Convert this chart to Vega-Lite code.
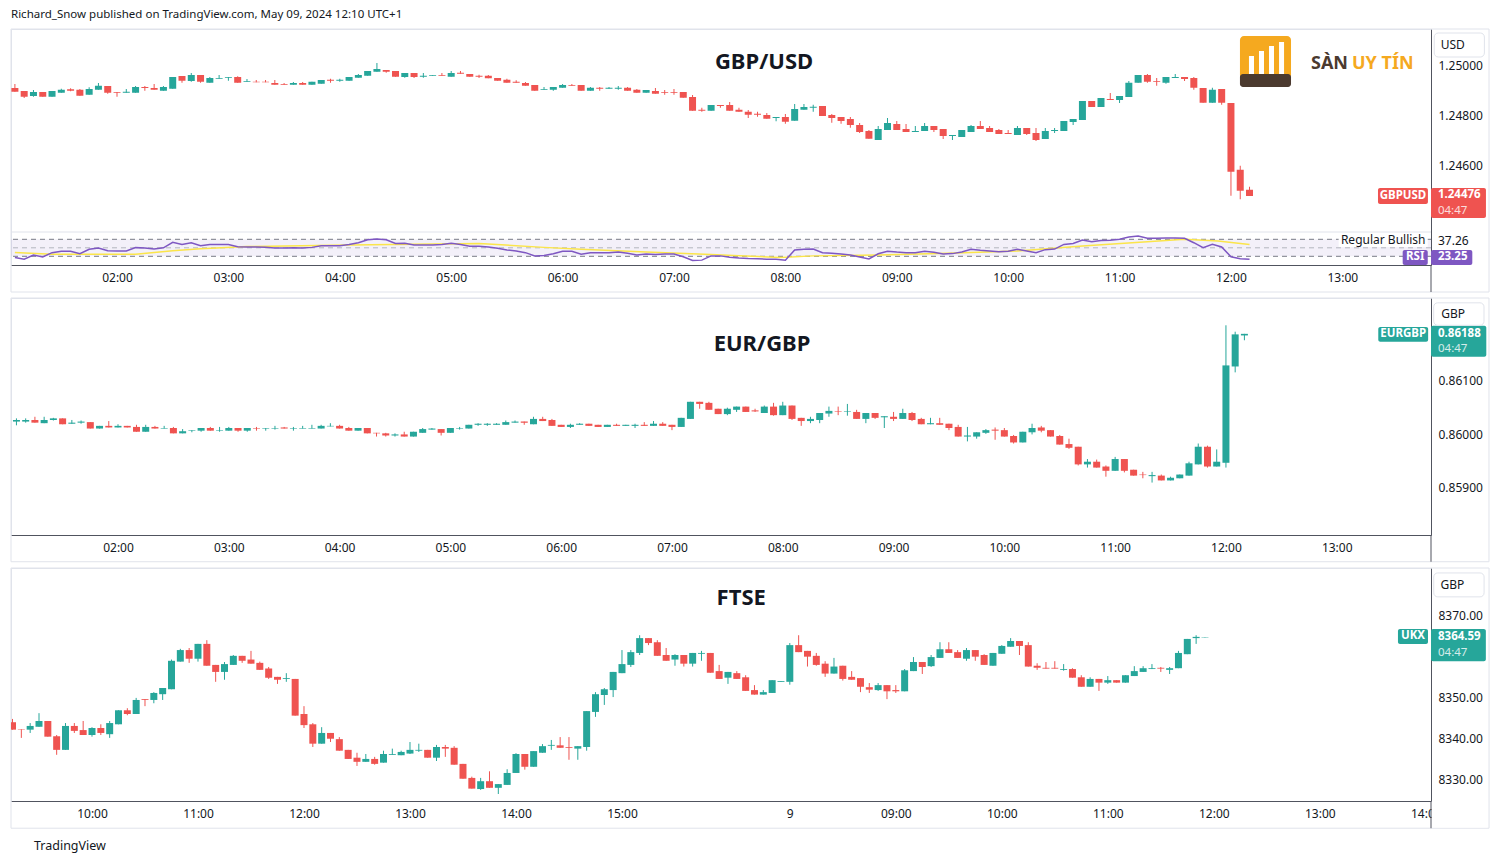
{
"$schema":"https://vega.github.io/schema/vega-lite/v6.json",
"background":"#ffffff",
"padding":{"top":8,"left":10,"right":0,"bottom":5},
"config":{"font":"Noto Sans","scale":{"continuousPadding":0},"view":{"stroke":"#e0e3eb"},"axis":{"grid":false,"ticks":false,"labelFontSize":12,"labelColor":"#131722","domainColor":"#50535e"}},
"datasets":{
"gbp":[
{"k":-11,"o":1.24908,"h":1.24924,"l":1.24893,"c":1.24893},{"k":-10,"o":1.24896,"h":1.24896,"l":1.24868,"c":1.24873},{"k":-9,"o":1.24876,"h":1.249,"l":1.24873,"c":1.24892},{"k":-8,"o":1.24892,"h":1.24892,"l":1.24873,"c":1.24873},{"k":-7,"o":1.24873,"h":1.24896,"l":1.24873,"c":1.24896},{"k":-6,"o":1.24889,"h":1.24905,"l":1.24889,"c":1.24901},{"k":-5,"o":1.24903,"h":1.24907,"l":1.24895,"c":1.24897},{"k":-4,"o":1.24901,"h":1.24904,"l":1.24877,"c":1.24877},{"k":-3,"o":1.24881,"h":1.24911,"l":1.24881,"c":1.24904},{"k":-2,"o":1.24901,"h":1.24928,"l":1.24901,"c":1.24917},
{"k":-1,"o":1.24916,"h":1.24916,"l":1.24885,"c":1.24889},{"k":0,"o":1.24892,"h":1.24892,"l":1.24873,"c":1.24889},{"k":1,"o":1.24889,"h":1.24904,"l":1.24889,"c":1.24893},{"k":2,"o":1.24889,"h":1.24916,"l":1.24889,"c":1.24912},{"k":3,"o":1.24912,"h":1.24916,"l":1.24897,"c":1.24908},{"k":4,"o":1.24908,"h":1.24924,"l":1.24901,"c":1.24901},{"k":5,"o":1.24897,"h":1.24916,"l":1.24897,"c":1.24912},{"k":6,"o":1.24905,"h":1.24952,"l":1.24905,"c":1.24952},{"k":7,"o":1.24956,"h":1.24956,"l":1.24929,"c":1.24937},{"k":8,"o":1.24936,"h":1.24968,"l":1.24933,"c":1.2496},
{"k":9,"o":1.2496,"h":1.2496,"l":1.24929,"c":1.24933},{"k":10,"o":1.24929,"h":1.24952,"l":1.24929,"c":1.24948},{"k":11,"o":1.24945,"h":1.2496,"l":1.24945,"c":1.24948},{"k":12,"o":1.24949,"h":1.24952,"l":1.24937,"c":1.24952},{"k":13,"o":1.24952,"h":1.24955,"l":1.24929,"c":1.24929},{"k":14,"o":1.24933,"h":1.24944,"l":1.24933,"c":1.24936},{"k":15,"o":1.24933,"h":1.2494,"l":1.24931,"c":1.24931},{"k":16,"o":1.24933,"h":1.2494,"l":1.24931,"c":1.24931},{"k":17,"o":1.24928,"h":1.2494,"l":1.24921,"c":1.24921},{"k":18,"o":1.24924,"h":1.24928,"l":1.24921,"c":1.24921},
{"k":19,"o":1.24921,"h":1.24932,"l":1.24921,"c":1.24928},{"k":20,"o":1.24928,"h":1.24932,"l":1.24921,"c":1.24921},{"k":21,"o":1.24921,"h":1.24933,"l":1.24921,"c":1.24933},{"k":22,"o":1.24925,"h":1.2494,"l":1.24925,"c":1.2494},{"k":23,"o":1.24941,"h":1.24945,"l":1.24929,"c":1.24937},{"k":24,"o":1.24937,"h":1.24945,"l":1.24933,"c":1.24941},{"k":25,"o":1.24937,"h":1.24952,"l":1.24937,"c":1.24952},{"k":26,"o":1.24949,"h":1.24964,"l":1.24949,"c":1.2496},{"k":27,"o":1.24957,"h":1.24976,"l":1.24957,"c":1.24976},{"k":28,"o":1.24973,"h":1.25008,"l":1.24973,"c":1.24984},
{"k":29,"o":1.2498,"h":1.2498,"l":1.24969,"c":1.24973},{"k":30,"o":1.24976,"h":1.24976,"l":1.24953,"c":1.24953},{"k":31,"o":1.24952,"h":1.24968,"l":1.24949,"c":1.24968},{"k":32,"o":1.24968,"h":1.24968,"l":1.24948,"c":1.24952},{"k":33,"o":1.24953,"h":1.24968,"l":1.24949,"c":1.24957},{"k":34,"o":1.24957,"h":1.2496,"l":1.24957,"c":1.2496},{"k":35,"o":1.2496,"h":1.24968,"l":1.24957,"c":1.24957},{"k":36,"o":1.24953,"h":1.24976,"l":1.24953,"c":1.24968},{"k":37,"o":1.24969,"h":1.24976,"l":1.24965,"c":1.24965},{"k":38,"o":1.24964,"h":1.24964,"l":1.24953,"c":1.24953},
{"k":39,"o":1.24957,"h":1.24961,"l":1.24948,"c":1.24953},{"k":40,"o":1.24957,"h":1.2496,"l":1.24947,"c":1.24947},{"k":41,"o":1.24948,"h":1.24948,"l":1.24937,"c":1.24937},{"k":42,"o":1.24941,"h":1.24945,"l":1.24929,"c":1.24929},{"k":43,"o":1.24933,"h":1.24939,"l":1.24929,"c":1.24929},{"k":44,"o":1.24928,"h":1.24932,"l":1.24917,"c":1.24917},{"k":45,"o":1.2492,"h":1.2492,"l":1.24897,"c":1.24897},{"k":46,"o":1.24901,"h":1.24912,"l":1.24901,"c":1.24904},{"k":47,"o":1.24901,"h":1.24912,"l":1.24897,"c":1.24912},{"k":48,"o":1.24909,"h":1.24924,"l":1.24909,"c":1.2492},
{"k":49,"o":1.2492,"h":1.24924,"l":1.24917,"c":1.24917},{"k":50,"o":1.2492,"h":1.2492,"l":1.24897,"c":1.24897},{"k":51,"o":1.24897,"h":1.24912,"l":1.24897,"c":1.24909},{"k":52,"o":1.24909,"h":1.24912,"l":1.24897,"c":1.24905},{"k":53,"o":1.24905,"h":1.24912,"l":1.24905,"c":1.24909},{"k":54,"o":1.24905,"h":1.24916,"l":1.24901,"c":1.24909},{"k":55,"o":1.24909,"h":1.24912,"l":1.24897,"c":1.24897},{"k":56,"o":1.24901,"h":1.24904,"l":1.24889,"c":1.24889},{"k":57,"o":1.24889,"h":1.249,"l":1.24889,"c":1.249},{"k":58,"o":1.24896,"h":1.24908,"l":1.24885,"c":1.24885},
{"k":59,"o":1.24892,"h":1.249,"l":1.24881,"c":1.24889},{"k":60,"o":1.24892,"h":1.24904,"l":1.24881,"c":1.24889},{"k":61,"o":1.24892,"h":1.24892,"l":1.24869,"c":1.24869},{"k":62,"o":1.24872,"h":1.2488,"l":1.24817,"c":1.24817},{"k":63,"o":1.24821,"h":1.24829,"l":1.24813,"c":1.24817},{"k":64,"o":1.24817,"h":1.2484,"l":1.24817,"c":1.2484},{"k":65,"o":1.2484,"h":1.2484,"l":1.24829,"c":1.24836},{"k":66,"o":1.2484,"h":1.24852,"l":1.24817,"c":1.24817},{"k":67,"o":1.24821,"h":1.24829,"l":1.24813,"c":1.24813},{"k":68,"o":1.24813,"h":1.2482,"l":1.24788,"c":1.24801},
{"k":69,"o":1.24805,"h":1.24813,"l":1.24793,"c":1.24801},{"k":70,"o":1.248,"h":1.24808,"l":1.24785,"c":1.24785},{"k":71,"o":1.24788,"h":1.24792,"l":1.24775,"c":1.24792},{"k":72,"o":1.24792,"h":1.24804,"l":1.24765,"c":1.24773},{"k":73,"o":1.24777,"h":1.24844,"l":1.24777,"c":1.24824},{"k":74,"o":1.24821,"h":1.24844,"l":1.24821,"c":1.24832},{"k":75,"o":1.24829,"h":1.24841,"l":1.24813,"c":1.24833},{"k":76,"o":1.24836,"h":1.24836,"l":1.24796,"c":1.24796},{"k":77,"o":1.248,"h":1.24804,"l":1.24769,"c":1.24788},{"k":78,"o":1.24792,"h":1.24792,"l":1.24765,"c":1.24776},
{"k":79,"o":1.24784,"h":1.24792,"l":1.24749,"c":1.2476},{"k":80,"o":1.2476,"h":1.24768,"l":1.24728,"c":1.24732},{"k":81,"o":1.24736,"h":1.2474,"l":1.24705,"c":1.24705},{"k":82,"o":1.247,"h":1.24756,"l":1.247,"c":1.24744},{"k":83,"o":1.2474,"h":1.24788,"l":1.2474,"c":1.24768},{"k":84,"o":1.24764,"h":1.24776,"l":1.2474,"c":1.2474},{"k":85,"o":1.24744,"h":1.24764,"l":1.24732,"c":1.24732},{"k":86,"o":1.24732,"h":1.24756,"l":1.24732,"c":1.24736},{"k":87,"o":1.24736,"h":1.24768,"l":1.24736,"c":1.24756},{"k":88,"o":1.24756,"h":1.24756,"l":1.24732,"c":1.2474},
{"k":89,"o":1.24744,"h":1.24744,"l":1.24704,"c":1.24716},{"k":90,"o":1.24716,"h":1.2472,"l":1.247,"c":1.2472},{"k":91,"o":1.24712,"h":1.2474,"l":1.24712,"c":1.2474},{"k":92,"o":1.24732,"h":1.2476,"l":1.24732,"c":1.24756},{"k":93,"o":1.24756,"h":1.24776,"l":1.24744,"c":1.24744},{"k":94,"o":1.24748,"h":1.24756,"l":1.24732,"c":1.24732},{"k":95,"o":1.2474,"h":1.24744,"l":1.24724,"c":1.24724},{"k":96,"o":1.24728,"h":1.2474,"l":1.24724,"c":1.24724},{"k":97,"o":1.2472,"h":1.24756,"l":1.2472,"c":1.24748},{"k":98,"o":1.24748,"h":1.24748,"l":1.2472,"c":1.24724},
{"k":99,"o":1.24728,"h":1.24748,"l":1.24696,"c":1.247},{"k":100,"o":1.24704,"h":1.24748,"l":1.24704,"c":1.24736},{"k":101,"o":1.24736,"h":1.24748,"l":1.24728,"c":1.2474},{"k":102,"o":1.24736,"h":1.24776,"l":1.24736,"c":1.24776},{"k":103,"o":1.24772,"h":1.24784,"l":1.2476,"c":1.24784},{"k":104,"o":1.2478,"h":1.24856,"l":1.2478,"c":1.24856},{"k":105,"o":1.24856,"h":1.24856,"l":1.24832,"c":1.24832},{"k":106,"o":1.24832,"h":1.24868,"l":1.24832,"c":1.24868},{"k":107,"o":1.24864,"h":1.24888,"l":1.2486,"c":1.2486},{"k":108,"o":1.2486,"h":1.24876,"l":1.24848,"c":1.24876},
{"k":109,"o":1.24872,"h":1.24936,"l":1.24872,"c":1.24929},{"k":110,"o":1.24929,"h":1.2496,"l":1.24929,"c":1.2496},{"k":111,"o":1.2496,"h":1.24964,"l":1.24929,"c":1.24933},{"k":112,"o":1.24936,"h":1.24948,"l":1.24917,"c":1.24933},{"k":113,"o":1.24929,"h":1.24952,"l":1.24925,"c":1.24952},{"k":114,"o":1.24948,"h":1.24964,"l":1.24948,"c":1.24952},{"k":115,"o":1.24952,"h":1.24952,"l":1.24936,"c":1.24944},{"k":116,"o":1.24948,"h":1.24952,"l":1.24901,"c":1.24909},{"k":117,"o":1.24908,"h":1.24908,"l":1.24849,"c":1.24849},{"k":118,"o":1.24849,"h":1.24909,"l":1.24849,"c":1.24901},
{"k":119,"o":1.24904,"h":1.24904,"l":1.24841,"c":1.24849},{"k":120,"o":1.24848,"h":1.24848,"l":1.24477,"c":1.24573},{"k":121,"o":1.24581,"h":1.24597,"l":1.24463,"c":1.24497},{"k":122,"o":1.24501,"h":1.24513,"l":1.24476,"c":1.24476}
],
"rsi":[
{"k":-11,"v":27},{"k":-10,"v":23},{"k":-9,"v":33},{"k":-8,"v":28.5},{"k":-7,"v":38.6},{"k":-6,"v":42},{"k":-5,"v":42},{"k":-4,"v":36},{"k":-3,"v":46.5},{"k":-2,"v":49.6},{"k":-1,"v":43},{"k":0,"v":42.5},{"k":1,"v":42.5},{"k":2,"v":50.4},{"k":3,"v":49.6},{"k":4,"v":47},{"k":5,"v":50},{"k":6,"v":63},{"k":7,"v":58},{"k":8,"v":62},{"k":9,"v":55},{"k":10,"v":57.5},{"k":11,"v":58},{"k":12,"v":58},{"k":13,"v":52.7},{"k":14,"v":52},{"k":15,"v":52},{"k":16,"v":51},{"k":17,"v":49.6},{"k":18,"v":49.6},{"k":19,"v":50.4},{"k":20,"v":49.6},{"k":21,"v":51},{"k":22,"v":55},{"k":23,"v":55},{"k":24,"v":55},{"k":25,"v":58},{"k":26,"v":62},{"k":27,"v":69},{"k":28,"v":70.8},{"k":29,"v":69},{"k":30,"v":60},{"k":31,"v":60.6},{"k":32,"v":56.7},{"k":33,"v":56.7},{"k":34,"v":56.7},{"k":35,"v":57.5},{"k":36,"v":60.6},{"k":37,"v":58},{"k":38,"v":53.5},{"k":39,"v":53.5},
{"k":40,"v":52},{"k":41,"v":49},{"k":42,"v":45},{"k":43,"v":42.5},{"k":44,"v":38.6},{"k":45,"v":31},{"k":46,"v":32},{"k":47,"v":36},{"k":48,"v":42},{"k":49,"v":42},{"k":50,"v":35},{"k":51,"v":38.6},{"k":52,"v":38.6},{"k":53,"v":38.6},{"k":54,"v":40},{"k":55,"v":37},{"k":56,"v":33},{"k":57,"v":35.5},{"k":58,"v":34},{"k":59,"v":35.5},{"k":60,"v":35.5},{"k":61,"v":29},{"k":62,"v":20},{"k":63,"v":21},{"k":64,"v":31},{"k":65,"v":31},{"k":66,"v":28},{"k":67,"v":26},{"k":68,"v":25},{"k":69,"v":24.5},{"k":70,"v":23},{"k":71,"v":23},{"k":72,"v":20.6},{"k":73,"v":45},{"k":74,"v":46.5},{"k":75,"v":47},{"k":76,"v":38.6},{"k":77,"v":37},{"k":78,"v":35.5},{"k":79,"v":33},{"k":80,"v":28.5},{"k":81,"v":23.7},{"k":82,"v":36},{"k":83,"v":42},{"k":84,"v":40},{"k":85,"v":38.6},{"k":86,"v":38.6},{"k":87,"v":42},{"k":88,"v":39.5},{"k":89,"v":35.5},
{"k":90,"v":36.3},{"k":91,"v":40},{"k":92,"v":46.5},{"k":93,"v":44},{"k":94,"v":42.5},{"k":95,"v":41},{"k":96,"v":42},{"k":97,"v":46.5},{"k":98,"v":42.5},{"k":99,"v":38.6},{"k":100,"v":45.7},{"k":101,"v":47},{"k":102,"v":58},{"k":103,"v":60},{"k":104,"v":68.4},{"k":105,"v":64.5},{"k":106,"v":67},{"k":107,"v":67.6},{"k":108,"v":70},{"k":109,"v":75.5},{"k":110,"v":78},{"k":111,"v":72.4},{"k":112,"v":72.4},{"k":113,"v":73},{"k":114,"v":73},{"k":115,"v":72.4},{"k":116,"v":62},{"k":117,"v":50.4},{"k":118,"v":58},{"k":119,"v":52},{"k":120,"v":29},{"k":121,"v":24.5},{"k":122,"v":23.25}
],
"rsima":[
{"k":-11,"v":39},{"k":-7,"v":35},{"k":2,"v":35},{"k":6,"v":43},{"k":9,"v":48},{"k":14,"v":53},{"k":25,"v":56.5},{"k":39,"v":60},{"k":46,"v":51},{"k":50,"v":46.5},{"k":57,"v":40},{"k":64,"v":34},{"k":71.5,"v":27},{"k":75,"v":31},{"k":82,"v":33},{"k":89.5,"v":37},{"k":97,"v":42.5},{"k":104,"v":54},{"k":111,"v":64.5},{"k":115,"v":70},{"k":118.6,"v":66},{"k":122,"v":58}
],
"eur":[
{"k":-11,"o":0.86024,"h":0.8603,"l":0.86017,"c":0.86027},{"k":-10,"o":0.86024,"h":0.8603,"l":0.86022,"c":0.86027},{"k":-9,"o":0.86027,"h":0.86033,"l":0.86022,"c":0.86022},{"k":-8,"o":0.86021,"h":0.86033,"l":0.86021,"c":0.86027},{"k":-7,"o":0.86027,"h":0.86031,"l":0.86026,"c":0.8603},{"k":-6,"o":0.8603,"h":0.8603,"l":0.86019,"c":0.86019},{"k":-5,"o":0.8602,"h":0.86027,"l":0.8602,"c":0.86022},{"k":-4,"o":0.86022,"h":0.86026,"l":0.8602,"c":0.86024},{"k":-3,"o":0.86023,"h":0.86023,"l":0.86011,"c":0.86011},{"k":-2,"o":0.86011,"h":0.86016,"l":0.86011,"c":0.86016},
{"k":-1,"o":0.86016,"h":0.86025,"l":0.86013,"c":0.86013},{"k":0,"o":0.86013,"h":0.86019,"l":0.86013,"c":0.86016},{"k":1,"o":0.86016,"h":0.86016,"l":0.86013,"c":0.86013},{"k":2,"o":0.86014,"h":0.86018,"l":0.86005,"c":0.86005},{"k":3,"o":0.86005,"h":0.86018,"l":0.86005,"c":0.86014},{"k":4,"o":0.86014,"h":0.86016,"l":0.86011,"c":0.86011},{"k":5,"o":0.86011,"h":0.86016,"l":0.86011,"c":0.86012},{"k":6,"o":0.86012,"h":0.86014,"l":0.86002,"c":0.86002},{"k":7,"o":0.86002,"h":0.8601,"l":0.86002,"c":0.86006},{"k":8,"o":0.86007,"h":0.86008,"l":0.86004,"c":0.86008},
{"k":9,"o":0.86007,"h":0.86012,"l":0.86005,"c":0.86012},{"k":10,"o":0.86012,"h":0.86014,"l":0.86007,"c":0.86007},{"k":11,"o":0.86007,"h":0.86014,"l":0.86005,"c":0.86008},{"k":12,"o":0.86007,"h":0.86014,"l":0.86007,"c":0.86012},{"k":13,"o":0.86012,"h":0.86012,"l":0.86005,"c":0.86007},{"k":14,"o":0.86007,"h":0.86012,"l":0.86005,"c":0.86012},{"k":15,"o":0.86012,"h":0.86014,"l":0.86007,"c":0.86011},{"k":16,"o":0.86011,"h":0.86012,"l":0.86007,"c":0.86012},{"k":17,"o":0.86011,"h":0.86016,"l":0.86009,"c":0.86012},{"k":18,"o":0.86013,"h":0.86014,"l":0.86011,"c":0.86011},
{"k":19,"o":0.86011,"h":0.86014,"l":0.86007,"c":0.86012},{"k":20,"o":0.86011,"h":0.86016,"l":0.86011,"c":0.86012},{"k":21,"o":0.86011,"h":0.86018,"l":0.86011,"c":0.86012},{"k":22,"o":0.86011,"h":0.86018,"l":0.86011,"c":0.86016},{"k":23,"o":0.86015,"h":0.86021,"l":0.86015,"c":0.86016},{"k":24,"o":0.86016,"h":0.86018,"l":0.86011,"c":0.86011},{"k":25,"o":0.86012,"h":0.86014,"l":0.86007,"c":0.86007},{"k":26,"o":0.86007,"h":0.86012,"l":0.86007,"c":0.86012},{"k":27,"o":0.86012,"h":0.86012,"l":0.86002,"c":0.86002},{"k":28,"o":0.86003,"h":0.86003,"l":0.85996,"c":0.86002},
{"k":29,"o":0.86002,"h":0.86003,"l":0.85996,"c":0.85998},{"k":30,"o":0.85998,"h":0.86002,"l":0.85996,"c":0.86},{"k":31,"o":0.86,"h":0.86005,"l":0.85996,"c":0.85996},{"k":32,"o":0.85996,"h":0.86005,"l":0.85996,"c":0.86005},{"k":33,"o":0.86003,"h":0.86012,"l":0.86003,"c":0.8601},{"k":34,"o":0.86009,"h":0.86012,"l":0.86009,"c":0.86011},{"k":35,"o":0.8601,"h":0.8601,"l":0.85998,"c":0.86003},{"k":36,"o":0.86003,"h":0.86012,"l":0.86003,"c":0.86012},{"k":37,"o":0.86011,"h":0.86014,"l":0.86009,"c":0.86012},{"k":38,"o":0.86011,"h":0.86018,"l":0.86011,"c":0.86018},
{"k":39,"o":0.86018,"h":0.86021,"l":0.86016,"c":0.8602},{"k":40,"o":0.86018,"h":0.86021,"l":0.86016,"c":0.8602},{"k":41,"o":0.86018,"h":0.86021,"l":0.86018,"c":0.8602},{"k":42,"o":0.86018,"h":0.86026,"l":0.86018,"c":0.86023},{"k":43,"o":0.86022,"h":0.86026,"l":0.86022,"c":0.86024},{"k":44,"o":0.86024,"h":0.86024,"l":0.86018,"c":0.86022},{"k":45,"o":0.86019,"h":0.86033,"l":0.86019,"c":0.86029},{"k":46,"o":0.86029,"h":0.86033,"l":0.86025,"c":0.86025},{"k":47,"o":0.86027,"h":0.86029,"l":0.86016,"c":0.86016},{"k":48,"o":0.86018,"h":0.86018,"l":0.86014,"c":0.86014},
{"k":49,"o":0.86014,"h":0.8602,"l":0.86012,"c":0.86018},{"k":50,"o":0.86018,"h":0.86021,"l":0.86018,"c":0.8602},{"k":51,"o":0.8602,"h":0.8602,"l":0.86016,"c":0.86016},{"k":52,"o":0.86018,"h":0.86018,"l":0.86014,"c":0.86014},{"k":53,"o":0.86014,"h":0.86018,"l":0.86014,"c":0.86018},{"k":54,"o":0.86018,"h":0.8602,"l":0.86016,"c":0.86016},{"k":55,"o":0.86016,"h":0.86018,"l":0.86016,"c":0.86018},{"k":56,"o":0.86016,"h":0.8602,"l":0.86012,"c":0.86018},{"k":57,"o":0.86018,"h":0.86023,"l":0.86016,"c":0.86016},{"k":58,"o":0.86016,"h":0.86025,"l":0.86016,"c":0.8602},
{"k":59,"o":0.8602,"h":0.86023,"l":0.86016,"c":0.86016},{"k":60,"o":0.86018,"h":0.86018,"l":0.86008,"c":0.86014},{"k":61,"o":0.86014,"h":0.86031,"l":0.86014,"c":0.86031},{"k":62,"o":0.86029,"h":0.86061,"l":0.86029,"c":0.86061},{"k":63,"o":0.86061,"h":0.86061,"l":0.86048,"c":0.86057},{"k":64,"o":0.86059,"h":0.86061,"l":0.86046,"c":0.86046},{"k":65,"o":0.86048,"h":0.86048,"l":0.86038,"c":0.86038},{"k":66,"o":0.86038,"h":0.8605,"l":0.86036,"c":0.86048},{"k":67,"o":0.86046,"h":0.86052,"l":0.86042,"c":0.86052},{"k":68,"o":0.86052,"h":0.86052,"l":0.86042,"c":0.86042},
{"k":69,"o":0.86045,"h":0.86048,"l":0.86042,"c":0.86043},{"k":70,"o":0.8604,"h":0.86054,"l":0.8604,"c":0.86052},{"k":71,"o":0.86052,"h":0.86059,"l":0.86035,"c":0.86036},{"k":72,"o":0.86036,"h":0.86061,"l":0.86036,"c":0.86054},{"k":73,"o":0.86054,"h":0.86054,"l":0.86027,"c":0.86029},{"k":74,"o":0.86031,"h":0.86031,"l":0.86016,"c":0.86025},{"k":75,"o":0.86025,"h":0.86033,"l":0.86021,"c":0.86029},{"k":76,"o":0.86027,"h":0.8604,"l":0.86021,"c":0.8604},{"k":77,"o":0.86039,"h":0.86052,"l":0.86033,"c":0.86044},{"k":78,"o":0.86043,"h":0.86052,"l":0.86036,"c":0.86042},
{"k":79,"o":0.86042,"h":0.86057,"l":0.86035,"c":0.86043},{"k":80,"o":0.86042,"h":0.86046,"l":0.86029,"c":0.86029},{"k":81,"o":0.86029,"h":0.8604,"l":0.86021,"c":0.8604},{"k":82,"o":0.8604,"h":0.8604,"l":0.86029,"c":0.86031},{"k":83,"o":0.86032,"h":0.86034,"l":0.86012,"c":0.86034},{"k":84,"o":0.86033,"h":0.86042,"l":0.86025,"c":0.86029},{"k":85,"o":0.86029,"h":0.86048,"l":0.86029,"c":0.8604},{"k":86,"o":0.8604,"h":0.86042,"l":0.86025,"c":0.86027},{"k":87,"o":0.86029,"h":0.86031,"l":0.86019,"c":0.86019},{"k":88,"o":0.86019,"h":0.86031,"l":0.86019,"c":0.86021},
{"k":89,"o":0.86021,"h":0.86031,"l":0.86018,"c":0.86018},{"k":90,"o":0.8602,"h":0.8602,"l":0.86008,"c":0.86012},{"k":91,"o":0.86014,"h":0.86018,"l":0.85996,"c":0.85996},{"k":92,"o":0.85996,"h":0.86014,"l":0.85987,"c":0.85998},{"k":93,"o":0.85996,"h":0.86004,"l":0.85992,"c":0.86004},{"k":94,"o":0.86003,"h":0.8601,"l":0.86001,"c":0.86008},{"k":95,"o":0.86009,"h":0.86013,"l":0.8599,"c":0.86007},{"k":96,"o":0.86008,"h":0.86012,"l":0.85996,"c":0.85996},{"k":97,"o":0.85997,"h":0.85999,"l":0.85983,"c":0.85985},{"k":98,"o":0.85985,"h":0.86005,"l":0.85985,"c":0.86005},
{"k":99,"o":0.86004,"h":0.8602,"l":0.86,"c":0.86012},{"k":100,"o":0.86013,"h":0.86016,"l":0.86004,"c":0.86007},{"k":101,"o":0.86008,"h":0.86008,"l":0.85996,"c":0.85996},{"k":102,"o":0.85997,"h":0.85999,"l":0.85981,"c":0.85981},{"k":103,"o":0.85982,"h":0.85992,"l":0.85973,"c":0.85975},{"k":104,"o":0.85977,"h":0.85977,"l":0.85942,"c":0.85944},{"k":105,"o":0.85944,"h":0.85954,"l":0.85938,"c":0.85949},{"k":106,"o":0.85949,"h":0.85953,"l":0.85938,"c":0.85938},{"k":107,"o":0.8594,"h":0.85942,"l":0.85921,"c":0.85932},{"k":108,"o":0.85932,"h":0.85958,"l":0.85932,"c":0.85954},
{"k":109,"o":0.85954,"h":0.85954,"l":0.85929,"c":0.85932},{"k":110,"o":0.85934,"h":0.85934,"l":0.85923,"c":0.85923},{"k":111,"o":0.85925,"h":0.8593,"l":0.85918,"c":0.85924},{"k":112,"o":0.85922,"h":0.8593,"l":0.8591,"c":0.85924},{"k":113,"o":0.85923,"h":0.85925,"l":0.85914,"c":0.85914},{"k":114,"o":0.85914,"h":0.85921,"l":0.85914,"c":0.85919},{"k":115,"o":0.85918,"h":0.85925,"l":0.85918,"c":0.85925},{"k":116,"o":0.85923,"h":0.85949,"l":0.85923,"c":0.85946},{"k":117,"o":0.85944,"h":0.85983,"l":0.85944,"c":0.85977},{"k":118,"o":0.85977,"h":0.85979,"l":0.85938,"c":0.8594},
{"k":119,"o":0.8594,"h":0.85972,"l":0.8594,"c":0.85949},{"k":120,"o":0.85947,"h":0.86204,"l":0.85938,"c":0.86129},{"k":121,"o":0.86127,"h":0.86192,"l":0.86116,"c":0.86187},{"k":122,"o":0.86185,"h":0.86188,"l":0.86176,"c":0.86188}
],
"ftse":[
{"k":-9,"o":8344.0,"h":8344.8,"l":8342.2,"c":8342.2},{"k":-8,"o":8342.3,"h":8342.3,"l":8340.2,"c":8342.2},{"k":-7,"o":8342.2,"h":8343.8,"l":8341.4,"c":8343.1},{"k":-6,"o":8342.9,"h":8346.2,"l":8342.9,"c":8344.3},{"k":-5,"o":8344.3,"h":8344.3,"l":8340.5,"c":8340.5},{"k":-4,"o":8340.6,"h":8340.9,"l":8336.1,"c":8337.3},{"k":-3,"o":8337.3,"h":8343.8,"l":8337.3,"c":8343.1},{"k":-2,"o":8343.1,"h":8343.8,"l":8341.4,"c":8341.9},{"k":-1,"o":8342.1,"h":8344.3,"l":8340.9,"c":8340.9},{"k":0,"o":8340.9,"h":8342.8,"l":8340.5,"c":8342.6},
{"k":1,"o":8342.6,"h":8343.5,"l":8340.9,"c":8341.4},{"k":2,"o":8341.1,"h":8344.3,"l":8340.2,"c":8343.8},{"k":3,"o":8343.5,"h":8346.9,"l":8343.5,"c":8346.9},{"k":4,"o":8346.9,"h":8347.4,"l":8345.7,"c":8346.0},{"k":5,"o":8346.0,"h":8349.9,"l":8346.0,"c":8349.4},{"k":6,"o":8349.6,"h":8349.6,"l":8347.9,"c":8349.4},{"k":7,"o":8349.4,"h":8351.3,"l":8348.6,"c":8351.1},{"k":8,"o":8350.8,"h":8352.3,"l":8349.4,"c":8352.3},{"k":9,"o":8352.0,"h":8359.2,"l":8352.0,"c":8358.9},{"k":10,"o":8358.7,"h":8361.8,"l":8358.7,"c":8361.5},
{"k":11,"o":8361.5,"h":8362.0,"l":8358.4,"c":8359.4},{"k":12,"o":8359.4,"h":8363.0,"l":8358.7,"c":8363.0},{"k":13,"o":8363.0,"h":8363.9,"l":8357.7,"c":8357.7},{"k":14,"o":8357.9,"h":8357.9,"l":8353.8,"c":8356.2},{"k":15,"o":8356.2,"h":8358.6,"l":8354.3,"c":8358.1},{"k":16,"o":8357.9,"h":8360.3,"l":8357.9,"c":8360.1},{"k":17,"o":8360.1,"h":8360.1,"l":8358.4,"c":8358.9},{"k":18,"o":8359.2,"h":8361.3,"l":8358.2,"c":8358.2},{"k":19,"o":8358.4,"h":8358.7,"l":8356.7,"c":8356.7},{"k":20,"o":8357.0,"h":8357.4,"l":8354.5,"c":8354.8},
{"k":21,"o":8355.0,"h":8355.0,"l":8353.3,"c":8354.3},{"k":22,"o":8354.5,"h":8355.9,"l":8353.8,"c":8354.7},{"k":23,"o":8354.5,"h":8354.5,"l":8345.6,"c":8345.6},{"k":24,"o":8346.0,"h":8347.9,"l":8342.6,"c":8343.3},{"k":25,"o":8343.5,"h":8343.8,"l":8338.0,"c":8338.8},{"k":26,"o":8338.8,"h":8342.8,"l":8338.8,"c":8341.4},{"k":27,"o":8341.4,"h":8341.4,"l":8339.2,"c":8340.0},{"k":28,"o":8339.9,"h":8340.4,"l":8337.1,"c":8337.1},{"k":29,"o":8337.3,"h":8337.3,"l":8335.1,"c":8335.1},{"k":30,"o":8335.4,"h":8336.6,"l":8333.4,"c":8334.4},
{"k":31,"o":8334.4,"h":8336.3,"l":8334.4,"c":8335.1},{"k":32,"o":8335.1,"h":8335.6,"l":8333.7,"c":8333.9},{"k":33,"o":8334.2,"h":8337.1,"l":8334.2,"c":8336.3},{"k":34,"o":8336.1,"h":8337.6,"l":8336.1,"c":8336.3},{"k":35,"o":8336.0,"h":8337.1,"l":8336.0,"c":8336.8},{"k":36,"o":8336.4,"h":8339.2,"l":8336.3,"c":8337.3},{"k":37,"o":8337.1,"h":8338.8,"l":8336.8,"c":8337.3},{"k":38,"o":8337.3,"h":8337.3,"l":8335.4,"c":8335.4},{"k":39,"o":8335.4,"h":8338.5,"l":8334.6,"c":8338.0},{"k":40,"o":8338.0,"h":8338.5,"l":8335.6,"c":8337.6},
{"k":41,"o":8337.8,"h":8338.2,"l":8333.7,"c":8333.7},{"k":42,"o":8333.9,"h":8333.9,"l":8330.3,"c":8330.3},{"k":43,"o":8330.5,"h":8330.8,"l":8327.9,"c":8327.9},{"k":44,"o":8327.8,"h":8330.5,"l":8327.6,"c":8329.7},{"k":45,"o":8329.7,"h":8332.1,"l":8328.1,"c":8328.1},{"k":46,"o":8328.1,"h":8329.0,"l":8326.6,"c":8329.0},{"k":47,"o":8328.8,"h":8332.6,"l":8328.8,"c":8331.7},{"k":48,"o":8331.7,"h":8336.5,"l":8331.7,"c":8336.3},{"k":49,"o":8336.3,"h":8336.3,"l":8332.5,"c":8333.2},{"k":50,"o":8333.2,"h":8337.0,"l":8333.2,"c":8337.0},
{"k":51,"o":8336.6,"h":8338.7,"l":8336.6,"c":8338.2},{"k":52,"o":8338.3,"h":8339.7,"l":8337.3,"c":8338.5},{"k":53,"o":8338.4,"h":8340.4,"l":8337.8,"c":8337.8},{"k":54,"o":8338.0,"h":8340.4,"l":8334.9,"c":8337.8},{"k":55,"o":8337.6,"h":8338.2,"l":8334.9,"c":8338.2},{"k":56,"o":8338.0,"h":8346.7,"l":8337.1,"c":8346.7},{"k":57,"o":8346.5,"h":8351.3,"l":8345.3,"c":8350.8},{"k":58,"o":8350.6,"h":8352.3,"l":8348.2,"c":8352.0},{"k":59,"o":8351.8,"h":8356.2,"l":8350.1,"c":8356.2},{"k":60,"o":8355.9,"h":8361.5,"l":8355.9,"c":8358.1},
{"k":61,"o":8357.9,"h":8361.5,"l":8357.4,"c":8361.0},{"k":62,"o":8360.8,"h":8365.1,"l":8360.3,"c":8364.4},{"k":63,"o":8364.4,"h":8364.4,"l":8362.7,"c":8363.2},{"k":64,"o":8363.4,"h":8363.9,"l":8360.1,"c":8360.1},{"k":65,"o":8360.3,"h":8362.0,"l":8358.9,"c":8358.9},{"k":66,"o":8359.2,"h":8360.5,"l":8357.7,"c":8360.3},{"k":67,"o":8360.3,"h":8360.3,"l":8357.5,"c":8358.2},{"k":68,"o":8358.2,"h":8360.8,"l":8357.5,"c":8360.8},{"k":69,"o":8360.6,"h":8361.3,"l":8358.9,"c":8360.8},{"k":70,"o":8360.8,"h":8360.8,"l":8356.0,"c":8356.0},
{"k":71,"o":8356.4,"h":8357.9,"l":8354.5,"c":8354.5},{"k":72,"o":8354.8,"h":8356.2,"l":8353.3,"c":8356.2},{"k":73,"o":8355.9,"h":8356.4,"l":8354.5,"c":8354.5},{"k":74,"o":8354.9,"h":8355.4,"l":8351.6,"c":8351.6},{"k":75,"o":8351.8,"h":8353.0,"l":8350.7,"c":8350.7},{"k":76,"o":8350.7,"h":8351.8,"l":8350.7,"c":8351.3},{"k":77,"o":8351.1,"h":8354.2,"l":8351.1,"c":8354.2},{"k":78,"o":8353.8,"h":8354.0,"l":8353.8,"c":8354.0},{"k":79,"o":8353.8,"h":8363.2,"l":8353.1,"c":8362.7},{"k":80,"o":8362.7,"h":8365.1,"l":8361.0,"c":8361.0},
{"k":81,"o":8361.3,"h":8361.3,"l":8357.5,"c":8359.9},{"k":82,"o":8360.1,"h":8360.8,"l":8357.7,"c":8357.9},{"k":83,"o":8358.2,"h":8358.8,"l":8355.0,"c":8355.8},{"k":84,"o":8355.8,"h":8359.6,"l":8355.8,"c":8357.5},{"k":85,"o":8357.7,"h":8357.7,"l":8354.1,"c":8354.5},{"k":86,"o":8355.0,"h":8356.4,"l":8354.3,"c":8354.3},{"k":87,"o":8354.7,"h":8354.7,"l":8351.3,"c":8352.6},{"k":88,"o":8352.5,"h":8353.5,"l":8351.1,"c":8351.9},{"k":89,"o":8351.8,"h":8353.5,"l":8351.6,"c":8353.0},{"k":90,"o":8353.0,"h":8353.0,"l":8349.6,"c":8351.5},
{"k":91,"o":8351.8,"h":8353.0,"l":8351.1,"c":8351.5},{"k":92,"o":8351.5,"h":8356.9,"l":8351.5,"c":8356.6},{"k":93,"o":8356.4,"h":8359.8,"l":8356.4,"c":8358.6},{"k":94,"o":8358.6,"h":8358.6,"l":8355.7,"c":8357.4},{"k":95,"o":8357.6,"h":8360.3,"l":8357.4,"c":8359.8},{"k":96,"o":8359.6,"h":8363.4,"l":8359.6,"c":8361.7},{"k":97,"o":8361.7,"h":8363.4,"l":8360.8,"c":8360.8},{"k":98,"o":8361.0,"h":8361.5,"l":8359.6,"c":8359.6},{"k":99,"o":8359.4,"h":8362.0,"l":8358.9,"c":8361.5},{"k":100,"o":8361.5,"h":8361.5,"l":8358.9,"c":8359.9},
{"k":101,"o":8360.3,"h":8360.5,"l":8357.9,"c":8357.9},{"k":102,"o":8357.7,"h":8360.8,"l":8357.7,"c":8360.8},{"k":103,"o":8360.6,"h":8362.7,"l":8360.6,"c":8362.5},{"k":104,"o":8362.3,"h":8364.4,"l":8362.3,"c":8363.7},{"k":105,"o":8363.7,"h":8363.7,"l":8360.3,"c":8362.5},{"k":106,"o":8362.7,"h":8363.4,"l":8357.5,"c":8357.5},{"k":107,"o":8357.7,"h":8358.3,"l":8356.7,"c":8357.2},{"k":108,"o":8357.2,"h":8358.6,"l":8357.0,"c":8357.0},{"k":109,"o":8357.2,"h":8358.8,"l":8357.0,"c":8357.0},{"k":110,"o":8356.7,"h":8358.1,"l":8356.5,"c":8356.9},
{"k":111,"o":8356.9,"h":8357.1,"l":8354.8,"c":8354.8},{"k":112,"o":8354.9,"h":8355.4,"l":8352.6,"c":8352.6},{"k":113,"o":8352.6,"h":8354.9,"l":8352.6,"c":8354.5},{"k":114,"o":8354.5,"h":8354.5,"l":8351.6,"c":8353.6},{"k":115,"o":8353.6,"h":8355.2,"l":8353.3,"c":8354.2},{"k":116,"o":8354.2,"h":8354.2,"l":8353.6,"c":8353.6},{"k":117,"o":8353.6,"h":8355.4,"l":8353.6,"c":8355.4},{"k":118,"o":8355.2,"h":8357.6,"l":8355.2,"c":8356.4},{"k":119,"o":8356.2,"h":8357.6,"l":8356.2,"c":8357.1},{"k":120,"o":8356.9,"h":8358.1,"l":8356.9,"c":8357.1},
{"k":121,"o":8357.2,"h":8357.4,"l":8356.2,"c":8357.0},{"k":122,"o":8356.7,"h":8357.4,"l":8355.7,"c":8357.1},{"k":123,"o":8357.1,"h":8361.3,"l":8357.1,"c":8360.8},{"k":124,"o":8360.5,"h":8364.2,"l":8360.5,"c":8364.2},{"k":125,"o":8364.4,"h":8365.1,"l":8363.0,"c":8364.7},{"k":126,"o":8364.5,"h":8364.6,"l":8364.5,"c":8364.59}
]
},
"bounds":"flush",
"spacing":33,
"vconcat":[
{
"width":1420,"height":236,
"resolve":{"scale":{"y":"independent"}},
"layer":[
{"layer":[
{"data":{"values":[{}]},"mark":{"type":"rect","fill":null,"stroke":"#e0e3eb","strokeWidth":1},"encoding":{"x":{"datum":-11.42,"type":"quantitative","scale":{"domain":[-11.42,141.55],"nice":false,"zero":false}},"x2":{"datum":147.8},"y":{"datum":1.25144,"type":"quantitative","scale":{"domain":[1.242,1.25144],"nice":false,"zero":false}},"y2":{"datum":1.24092}}},
{"data":{"values":[{}]},"mark":{"type":"text","text":"Richard_Snow published on TradingView.com, May 09, 2024 12:10 UTC+1","fontSize":11.5,"color":"#131722","align":"left","baseline":"middle"},"encoding":{"x":{"datum":-11.42,"type":"quantitative","scale":{"domain":[-11.42,141.55],"nice":false,"zero":false}},"y":{"datum":1.252,"type":"quantitative","scale":{"domain":[1.242,1.25144],"nice":false,"zero":false}}}},
{"data":{"values":[{}]},"mark":{"type":"rule","color":"#e0e3eb","strokeWidth":1},"encoding":{"y":{"datum":1.24332,"type":"quantitative","scale":{"domain":[1.242,1.25144],"nice":false,"zero":false}}}},
{"data":{"values":[{}]},"mark":{"type":"rule","color":"#50535e","strokeWidth":1},"encoding":{"x":{"datum":141.55,"type":"quantitative","scale":{"domain":[-11.42,141.55],"nice":false,"zero":false}},"y":{"datum":1.242,"type":"quantitative","scale":{"domain":[1.242,1.25144],"nice":false,"zero":false}},"y2":{"datum":1.24092}}},
{"data":{"name":"gbp"},"mark":{"type":"rule","strokeWidth":1,"clip":true},"encoding":{
"x":{"field":"k","type":"quantitative","scale":{"domain":[-11.42,141.55],"nice":false,"zero":false},"axis":{"values":[0,12,24,36,48,60,72,84,96,108,120,132],"labelExpr":"(datum.value/12+2<10?'0':'')+(datum.value/12+2)+':00'","title":null,"labelPadding":7,"labelFlush":false,"labelOverlap":false}},
"y":{"field":"l","type":"quantitative","scale":{"domain":[1.242,1.25144],"nice":false,"zero":false},"axis":{"orient":"right","values":[1.246,1.248,1.25],"format":".5f","title":null,"labelPadding":7}},
"y2":{"field":"h"},
"color":{"condition":{"test":"datum.c >= datum.o","value":"#26a69a"},"value":"#ef5350"}}},
{"data":{"name":"gbp"},"mark":{"type":"bar","width":7,"clip":true},"encoding":{
"x":{"field":"k","type":"quantitative","scale":{"domain":[-11.42,141.55],"nice":false,"zero":false}},
"y":{"field":"o","type":"quantitative","scale":{"domain":[1.242,1.25144],"nice":false,"zero":false}},
"y2":{"field":"c"},
"color":{"condition":{"test":"datum.c >= datum.o","value":"#26a69a"},"value":"#ef5350"}}},
{"data":{"values":[{}]},"mark":{"type":"text","text":"GBP/USD","fontSize":22,"fontWeight":"bold","color":"#131722"},"encoding":{"x":{"datum":69.7,"type":"quantitative","scale":{"domain":[-11.42,141.55],"nice":false,"zero":false}},"y":{"datum":1.25012,"type":"quantitative","scale":{"domain":[1.242,1.25144],"nice":false,"zero":false}}}},
{"data":{"values":[{}]},"mark":{"type":"rect","color":"#f5a91f","cornerRadius":4},"encoding":{"x":{"datum":120.97,"type":"quantitative","scale":{"domain":[-11.42,141.55],"nice":false,"zero":false}},"x2":{"datum":126.47},"y":{"datum":1.25116,"type":"quantitative","scale":{"domain":[1.242,1.25144],"nice":false,"zero":false}},"y2":{"datum":1.24944}}},
{"data":{"values":[{}]},"mark":{"type":"rect","color":"#4b3a2f","cornerRadius":3},"encoding":{"x":{"datum":120.97,"type":"quantitative","scale":{"domain":[-11.42,141.55],"nice":false,"zero":false}},"x2":{"datum":126.47},"y":{"datum":1.24964,"type":"quantitative","scale":{"domain":[1.242,1.25144],"nice":false,"zero":false}},"y2":{"datum":1.24912}}},
{"data":{"values":[{}]},"mark":{"type":"rect","color":"#ffffff"},"encoding":{"x":{"datum":121.94,"type":"quantitative","scale":{"domain":[-11.42,141.55],"nice":false,"zero":false}},"x2":{"datum":122.48},"y":{"datum":1.25036,"type":"quantitative","scale":{"domain":[1.242,1.25144],"nice":false,"zero":false}},"y2":{"datum":1.24964}}},
{"data":{"values":[{}]},"mark":{"type":"rect","color":"#ffffff"},"encoding":{"x":{"datum":123.02,"type":"quantitative","scale":{"domain":[-11.42,141.55],"nice":false,"zero":false}},"x2":{"datum":123.56},"y":{"datum":1.25056,"type":"quantitative","scale":{"domain":[1.242,1.25144],"nice":false,"zero":false}},"y2":{"datum":1.24964}}},
{"data":{"values":[{}]},"mark":{"type":"rect","color":"#ffffff"},"encoding":{"x":{"datum":124.1,"type":"quantitative","scale":{"domain":[-11.42,141.55],"nice":false,"zero":false}},"x2":{"datum":124.64},"y":{"datum":1.25076,"type":"quantitative","scale":{"domain":[1.242,1.25144],"nice":false,"zero":false}},"y2":{"datum":1.24964}}},
{"data":{"values":[{}]},"mark":{"type":"rect","color":"#ffffff"},"encoding":{"x":{"datum":125.18,"type":"quantitative","scale":{"domain":[-11.42,141.55],"nice":false,"zero":false}},"x2":{"datum":125.72},"y":{"datum":1.25092,"type":"quantitative","scale":{"domain":[1.242,1.25144],"nice":false,"zero":false}},"y2":{"datum":1.24964}}},
{"data":{"values":[{}]},"mark":{"type":"text","text":"SÀN","fontSize":18,"fontWeight":"bold","color":"#4b3a2f","align":"left"},"encoding":{"x":{"datum":128.62,"type":"quantitative","scale":{"domain":[-11.42,141.55],"nice":false,"zero":false}},"y":{"datum":1.25004,"type":"quantitative","scale":{"domain":[1.242,1.25144],"nice":false,"zero":false}}}},
{"data":{"values":[{}]},"mark":{"type":"text","text":"UY TÍN","fontSize":18,"fontWeight":"bold","color":"#f5a91f","align":"left"},"encoding":{"x":{"datum":133.04,"type":"quantitative","scale":{"domain":[-11.42,141.55],"nice":false,"zero":false}},"y":{"datum":1.25004,"type":"quantitative","scale":{"domain":[1.242,1.25144],"nice":false,"zero":false}}}},
{"data":{"values":[{}]},"mark":{"type":"rect","color":"#ef5350","cornerRadius":2},"encoding":{"x":{"datum":135.84,"type":"quantitative","scale":{"domain":[-11.42,141.55],"nice":false,"zero":false}},"x2":{"datum":141.22},"y":{"datum":1.24508,"type":"quantitative","scale":{"domain":[1.242,1.25144],"nice":false,"zero":false}},"y2":{"datum":1.24444}}},
{"data":{"values":[{}]},"mark":{"type":"text","text":"GBPUSD","fontSize":11.5,"fontWeight":"bold","color":"#ffffff"},"encoding":{"x":{"datum":138.53,"type":"quantitative","scale":{"domain":[-11.42,141.55],"nice":false,"zero":false}},"y":{"datum":1.24476,"type":"quantitative","scale":{"domain":[1.242,1.25144],"nice":false,"zero":false}}}},
{"data":{"values":[{}]},"mark":{"type":"rect","color":"#ef5350","cornerRadius":2},"encoding":{"x":{"datum":141.55,"type":"quantitative","scale":{"domain":[-11.42,141.55],"nice":false,"zero":false}},"x2":{"datum":147.47},"y":{"datum":1.24508,"type":"quantitative","scale":{"domain":[1.242,1.25144],"nice":false,"zero":false}},"y2":{"datum":1.24388}}},
{"data":{"values":[{}]},"mark":{"type":"text","text":"1.24476","fontSize":11.5,"fontWeight":"bold","color":"#ffffff","align":"left"},"encoding":{"x":{"datum":142.3,"type":"quantitative","scale":{"domain":[-11.42,141.55],"nice":false,"zero":false}},"y":{"datum":1.2448,"type":"quantitative","scale":{"domain":[1.242,1.25144],"nice":false,"zero":false}}}},
{"data":{"values":[{}]},"mark":{"type":"text","text":"04:47","fontSize":11.5,"color":"#ffffff","opacity":0.8,"align":"left"},"encoding":{"x":{"datum":142.3,"type":"quantitative","scale":{"domain":[-11.42,141.55],"nice":false,"zero":false}},"y":{"datum":1.24418,"type":"quantitative","scale":{"domain":[1.242,1.25144],"nice":false,"zero":false}}}},
{"data":{"values":[{}]},"mark":{"type":"rect","fill":"#ffffff"},"encoding":{"x":{"datum":141.66,"type":"quantitative","scale":{"domain":[-11.42,141.55],"nice":false,"zero":false}},"x2":{"datum":147.7},"y":{"datum":1.25132,"type":"quantitative","scale":{"domain":[1.242,1.25144],"nice":false,"zero":false}},"y2":{"datum":1.25018}}},
{"data":{"values":[{}]},"mark":{"type":"rect","fill":"#ffffff","stroke":"#e0e3eb","cornerRadius":4},"encoding":{"x":{"datum":141.9,"type":"quantitative","scale":{"domain":[-11.42,141.55],"nice":false,"zero":false}},"x2":{"datum":147.3},"y":{"datum":1.25128,"type":"quantitative","scale":{"domain":[1.242,1.25144],"nice":false,"zero":false}},"y2":{"datum":1.25032}}},
{"data":{"values":[{}]},"mark":{"type":"text","text":"USD","fontSize":12,"color":"#131722"},"encoding":{"x":{"datum":143.9,"type":"quantitative","scale":{"domain":[-11.42,141.55],"nice":false,"zero":false}},"y":{"datum":1.2508,"type":"quantitative","scale":{"domain":[1.242,1.25144],"nice":false,"zero":false}}}}
]},
{"layer":[
{"data":{"values":[{}]},"mark":{"type":"rect","color":"#7e57c2","opacity":0.09},"encoding":{"y":{"datum":70,"type":"quantitative","scale":{"domain":[9.53,564.8],"nice":false,"zero":false},"axis":null},"y2":{"datum":30}}},
{"data":{"values":[{}]},"mark":{"type":"rule","color":"#787b86","strokeDash":[5,4]},"encoding":{"y":{"datum":70,"type":"quantitative","scale":{"domain":[9.53,564.8],"nice":false,"zero":false},"axis":null}}},
{"data":{"values":[{}]},"mark":{"type":"rule","color":"#b2b5be","strokeDash":[5,4]},"encoding":{"y":{"datum":50,"type":"quantitative","scale":{"domain":[9.53,564.8],"nice":false,"zero":false},"axis":null}}},
{"data":{"values":[{}]},"mark":{"type":"rule","color":"#787b86","strokeDash":[5,4]},"encoding":{"y":{"datum":30,"type":"quantitative","scale":{"domain":[9.53,564.8],"nice":false,"zero":false},"axis":null}}},
{"data":{"name":"rsima"},"mark":{"type":"line","color":"#fbe54a","strokeWidth":1.5,"clip":true},"encoding":{"x":{"field":"k","type":"quantitative","scale":{"domain":[-11.42,141.55],"nice":false,"zero":false}},"y":{"field":"v","type":"quantitative","scale":{"domain":[9.53,564.8],"nice":false,"zero":false},"axis":null}}},
{"data":{"name":"rsi"},"mark":{"type":"line","color":"#7e57c2","strokeWidth":1.5,"clip":true},"encoding":{"x":{"field":"k","type":"quantitative","scale":{"domain":[-11.42,141.55],"nice":false,"zero":false}},"y":{"field":"v","type":"quantitative","scale":{"domain":[9.53,564.8],"nice":false,"zero":false},"axis":null}}},
{"data":{"values":[{}]},"mark":{"type":"rect","fill":"#ffffff"},"encoding":{"x":{"datum":131.6,"type":"quantitative","scale":{"domain":[-11.42,141.55],"nice":false,"zero":false}},"x2":{"datum":141.2},"y":{"datum":82.5,"type":"quantitative","scale":{"domain":[9.53,564.8],"nice":false,"zero":false},"axis":null},"y2":{"datum":51.9}}},
{"data":{"values":[{}]},"mark":{"type":"text","text":"Regular Bullish","fontSize":12,"color":"#131722"},"encoding":{"x":{"datum":136.4,"type":"quantitative","scale":{"domain":[-11.42,141.55],"nice":false,"zero":false}},"y":{"datum":67.2,"type":"quantitative","scale":{"domain":[9.53,564.8],"nice":false,"zero":false},"axis":null}}},
{"data":{"values":[{}]},"mark":{"type":"text","text":"37.26","fontSize":12,"color":"#131722","align":"left"},"encoding":{"x":{"datum":142.3,"type":"quantitative","scale":{"domain":[-11.42,141.55],"nice":false,"zero":false}},"y":{"datum":66,"type":"quantitative","scale":{"domain":[9.53,564.8],"nice":false,"zero":false},"axis":null}}},
{"data":{"values":[{}]},"mark":{"type":"rect","color":"#7e57c2","cornerRadius":2},"encoding":{"x":{"datum":138.5,"type":"quantitative","scale":{"domain":[-11.42,141.55],"nice":false,"zero":false}},"x2":{"datum":141.2},"y":{"datum":44.8,"type":"quantitative","scale":{"domain":[9.53,564.8],"nice":false,"zero":false},"axis":null},"y2":{"datum":9.5}}},
{"data":{"values":[{}]},"mark":{"type":"text","text":"RSI","fontSize":11.5,"fontWeight":"bold","color":"#ffffff"},"encoding":{"x":{"datum":139.85,"type":"quantitative","scale":{"domain":[-11.42,141.55],"nice":false,"zero":false}},"y":{"datum":27.2,"type":"quantitative","scale":{"domain":[9.53,564.8],"nice":false,"zero":false},"axis":null}}},
{"data":{"values":[{}]},"mark":{"type":"rect","color":"#7e57c2","cornerRadius":2},"encoding":{"x":{"datum":141.55,"type":"quantitative","scale":{"domain":[-11.42,141.55],"nice":false,"zero":false}},"x2":{"datum":146.0},"y":{"datum":44.8,"type":"quantitative","scale":{"domain":[9.53,564.8],"nice":false,"zero":false},"axis":null},"y2":{"datum":9.5}}},
{"data":{"values":[{}]},"mark":{"type":"text","text":"23.25","fontSize":11.5,"fontWeight":"bold","color":"#ffffff","align":"left"},"encoding":{"x":{"datum":142.3,"type":"quantitative","scale":{"domain":[-11.42,141.55],"nice":false,"zero":false}},"y":{"datum":27.2,"type":"quantitative","scale":{"domain":[9.53,564.8],"nice":false,"zero":false},"axis":null}}}
]}
]
},
{
"width":1420,"height":237,
"layer":[
{"data":{"values":[{}]},"mark":{"type":"rect","fill":null,"stroke":"#e0e3eb","strokeWidth":1},"encoding":{"x":{"datum":-11.59,"type":"quantitative","scale":{"domain":[-11.59,142.21],"nice":false,"zero":false}},"x2":{"datum":148.49},"y":{"datum":0.86255,"type":"quantitative","scale":{"domain":[0.85812,0.86255],"nice":false,"zero":false}},"y2":{"datum":0.85762}}},
{"data":{"values":[{}]},"mark":{"type":"rule","color":"#50535e","strokeWidth":1},"encoding":{"x":{"datum":142.21,"type":"quantitative","scale":{"domain":[-11.59,142.21],"nice":false,"zero":false}},"y":{"datum":0.85812,"type":"quantitative","scale":{"domain":[0.85812,0.86255],"nice":false,"zero":false}},"y2":{"datum":0.85762}}},
{"data":{"name":"eur"},"mark":{"type":"rule","strokeWidth":1,"clip":true},"encoding":{
"x":{"field":"k","type":"quantitative","scale":{"domain":[-11.59,142.21],"nice":false,"zero":false},"axis":{"values":[0,12,24,36,48,60,72,84,96,108,120,132],"labelExpr":"(datum.value/12+2<10?'0':'')+(datum.value/12+2)+':00'","title":null,"labelPadding":7,"labelFlush":false,"labelOverlap":false}},
"y":{"field":"l","type":"quantitative","scale":{"domain":[0.85812,0.86255],"nice":false,"zero":false},"axis":{"orient":"right","values":[0.859,0.86,0.861],"format":".5f","title":null,"labelPadding":7}},
"y2":{"field":"h"},
"color":{"condition":{"test":"datum.c >= datum.o","value":"#26a69a"},"value":"#ef5350"}}},
{"data":{"name":"eur"},"mark":{"type":"bar","width":7,"clip":true},"encoding":{
"x":{"field":"k","type":"quantitative","scale":{"domain":[-11.59,142.21],"nice":false,"zero":false}},
"y":{"field":"o","type":"quantitative","scale":{"domain":[0.85812,0.86255],"nice":false,"zero":false}},
"y2":{"field":"c"},
"color":{"condition":{"test":"datum.c >= datum.o","value":"#26a69a"},"value":"#ef5350"}}},
{"data":{"values":[{}]},"mark":{"type":"text","text":"EUR/GBP","fontSize":22,"fontWeight":"bold","color":"#131722"},"encoding":{"x":{"datum":69.75,"type":"quantitative","scale":{"domain":[-11.59,142.21],"nice":false,"zero":false}},"y":{"datum":0.86169,"type":"quantitative","scale":{"domain":[0.85812,0.86255],"nice":false,"zero":false}}}},
{"data":{"values":[{}]},"mark":{"type":"rect","color":"#26a69a","cornerRadius":2},"encoding":{"x":{"datum":136.5,"type":"quantitative","scale":{"domain":[-11.59,142.21],"nice":false,"zero":false}},"x2":{"datum":141.9},"y":{"datum":0.86201,"type":"quantitative","scale":{"domain":[0.85812,0.86255],"nice":false,"zero":false}},"y2":{"datum":0.86173}}},
{"data":{"values":[{}]},"mark":{"type":"text","text":"EURGBP","fontSize":11.5,"fontWeight":"bold","color":"#ffffff"},"encoding":{"x":{"datum":139.2,"type":"quantitative","scale":{"domain":[-11.59,142.21],"nice":false,"zero":false}},"y":{"datum":0.86187,"type":"quantitative","scale":{"domain":[0.85812,0.86255],"nice":false,"zero":false}}}},
{"data":{"values":[{}]},"mark":{"type":"rect","color":"#26a69a","cornerRadius":2},"encoding":{"x":{"datum":142.21,"type":"quantitative","scale":{"domain":[-11.59,142.21],"nice":false,"zero":false}},"x2":{"datum":148.2},"y":{"datum":0.86203,"type":"quantitative","scale":{"domain":[0.85812,0.86255],"nice":false,"zero":false}},"y2":{"datum":0.86145}}},
{"data":{"values":[{}]},"mark":{"type":"text","text":"0.86188","fontSize":11.5,"fontWeight":"bold","color":"#ffffff","align":"left"},"encoding":{"x":{"datum":142.97,"type":"quantitative","scale":{"domain":[-11.59,142.21],"nice":false,"zero":false}},"y":{"datum":0.86188,"type":"quantitative","scale":{"domain":[0.85812,0.86255],"nice":false,"zero":false}}}},
{"data":{"values":[{}]},"mark":{"type":"text","text":"04:47","fontSize":11.5,"color":"#ffffff","opacity":0.8,"align":"left"},"encoding":{"x":{"datum":142.97,"type":"quantitative","scale":{"domain":[-11.59,142.21],"nice":false,"zero":false}},"y":{"datum":0.8616,"type":"quantitative","scale":{"domain":[0.85812,0.86255],"nice":false,"zero":false}}}},
{"data":{"values":[{}]},"mark":{"type":"rect","fill":"#ffffff","stroke":"#e0e3eb","cornerRadius":4},"encoding":{"x":{"datum":142.5,"type":"quantitative","scale":{"domain":[-11.59,142.21],"nice":false,"zero":false}},"x2":{"datum":147.95},"y":{"datum":0.86246,"type":"quantitative","scale":{"domain":[0.85812,0.86255],"nice":false,"zero":false}},"y2":{"datum":0.86204}}},
{"data":{"values":[{}]},"mark":{"type":"text","text":"GBP","fontSize":12,"color":"#131722"},"encoding":{"x":{"datum":144.6,"type":"quantitative","scale":{"domain":[-11.59,142.21],"nice":false,"zero":false}},"y":{"datum":0.86225,"type":"quantitative","scale":{"domain":[0.85812,0.86255],"nice":false,"zero":false}}}}
]
},
{
"width":1420,"height":233,
"layer":[
{"data":{"values":[{}]},"mark":{"type":"rect","fill":null,"stroke":"#e0e3eb","strokeWidth":1},"encoding":{"x":{"datum":-9.17,"type":"quantitative","scale":{"domain":[-9.17,151.59],"nice":false,"zero":false}},"x2":{"datum":158.16},"y":{"datum":8381.4,"type":"quantitative","scale":{"domain":[8324.9,8381.4],"nice":false,"zero":false}},"y2":{"datum":8318.3}}},
{"data":{"name":"ftse"},"mark":{"type":"rule","strokeWidth":1,"clip":true},"encoding":{
"x":{"field":"k","type":"quantitative","scale":{"domain":[-9.17,151.59],"nice":false,"zero":false},"axis":{"values":[0,12,24,36,48,60,79,91,103,115,127,139,151],"labelExpr":"['10:00','11:00','12:00','13:00','14:00','15:00','9','09:00','10:00','11:00','12:00','13:00','14:00'][indexof([0,12,24,36,48,60,79,91,103,115,127,139,151],datum.value)]","title":null,"labelPadding":7,"labelFlush":false,"labelOverlap":false}},
"y":{"field":"l","type":"quantitative","scale":{"domain":[8324.9,8381.4],"nice":false,"zero":false},"axis":{"orient":"right","values":[8330,8340,8350,8370],"format":".2f","title":null,"labelPadding":7}},
"y2":{"field":"h"},
"color":{"condition":{"test":"datum.c >= datum.o","value":"#26a69a"},"value":"#ef5350"}}},
{"data":{"name":"ftse"},"mark":{"type":"bar","width":7,"clip":true},"encoding":{
"x":{"field":"k","type":"quantitative","scale":{"domain":[-9.17,151.59],"nice":false,"zero":false}},
"y":{"field":"o","type":"quantitative","scale":{"domain":[8324.9,8381.4],"nice":false,"zero":false}},
"y2":{"field":"c"},
"color":{"condition":{"test":"datum.c >= datum.o","value":"#26a69a"},"value":"#ef5350"}}},
{"data":{"values":[{}]},"mark":{"type":"rect","fill":"#ffffff"},"encoding":{"x":{"datum":151.65,"type":"quantitative","scale":{"domain":[-9.17,151.59],"nice":false,"zero":false}},"x2":{"datum":158.0},"y":{"datum":8324.75,"type":"quantitative","scale":{"domain":[8324.9,8381.4],"nice":false,"zero":false}},"y2":{"datum":8318.5}}},
{"data":{"values":[{}]},"mark":{"type":"rule","color":"#50535e","strokeWidth":1},"encoding":{"x":{"datum":151.59,"type":"quantitative","scale":{"domain":[-9.17,151.59],"nice":false,"zero":false}},"y":{"datum":8324.9,"type":"quantitative","scale":{"domain":[8324.9,8381.4],"nice":false,"zero":false}},"y2":{"datum":8318.3}}},
{"data":{"values":[{}]},"mark":{"type":"text","text":"FTSE","fontSize":22,"fontWeight":"bold","color":"#131722"},"encoding":{"x":{"datum":73.5,"type":"quantitative","scale":{"domain":[-9.17,151.59],"nice":false,"zero":false}},"y":{"datum":8374.1,"type":"quantitative","scale":{"domain":[8324.9,8381.4],"nice":false,"zero":false}}}},
{"data":{"values":[{}]},"mark":{"type":"rect","color":"#26a69a","cornerRadius":2},"encoding":{"x":{"datum":147.85,"type":"quantitative","scale":{"domain":[-9.17,151.59],"nice":false,"zero":false}},"x2":{"datum":151.25},"y":{"datum":8366.6,"type":"quantitative","scale":{"domain":[8324.9,8381.4],"nice":false,"zero":false}},"y2":{"datum":8362.96}}},
{"data":{"values":[{}]},"mark":{"type":"text","text":"UKX","fontSize":11.5,"fontWeight":"bold","color":"#ffffff"},"encoding":{"x":{"datum":149.55,"type":"quantitative","scale":{"domain":[-9.17,151.59],"nice":false,"zero":false}},"y":{"datum":8364.8,"type":"quantitative","scale":{"domain":[8324.9,8381.4],"nice":false,"zero":false}}}},
{"data":{"values":[{}]},"mark":{"type":"rect","color":"#26a69a","cornerRadius":2},"encoding":{"x":{"datum":151.59,"type":"quantitative","scale":{"domain":[-9.17,151.59],"nice":false,"zero":false}},"x2":{"datum":157.8},"y":{"datum":8366.6,"type":"quantitative","scale":{"domain":[8324.9,8381.4],"nice":false,"zero":false}},"y2":{"datum":8358.8}}},
{"data":{"values":[{}]},"mark":{"type":"text","text":"8364.59","fontSize":11.5,"fontWeight":"bold","color":"#ffffff","align":"left"},"encoding":{"x":{"datum":152.38,"type":"quantitative","scale":{"domain":[-9.17,151.59],"nice":false,"zero":false}},"y":{"datum":8364.6,"type":"quantitative","scale":{"domain":[8324.9,8381.4],"nice":false,"zero":false}}}},
{"data":{"values":[{}]},"mark":{"type":"text","text":"04:47","fontSize":11.5,"color":"#ffffff","opacity":0.8,"align":"left"},"encoding":{"x":{"datum":152.38,"type":"quantitative","scale":{"domain":[-9.17,151.59],"nice":false,"zero":false}},"y":{"datum":8360.8,"type":"quantitative","scale":{"domain":[8324.9,8381.4],"nice":false,"zero":false}}}},
{"data":{"values":[{}]},"mark":{"type":"rect","fill":"#ffffff","stroke":"#e0e3eb","cornerRadius":4},"encoding":{"x":{"datum":151.9,"type":"quantitative","scale":{"domain":[-9.17,151.59],"nice":false,"zero":false}},"x2":{"datum":157.6},"y":{"datum":8380.2,"type":"quantitative","scale":{"domain":[8324.9,8381.4],"nice":false,"zero":false}},"y2":{"datum":8374.4}}},
{"data":{"values":[{}]},"mark":{"type":"text","text":"GBP","fontSize":12,"color":"#131722"},"encoding":{"x":{"datum":154.0,"type":"quantitative","scale":{"domain":[-9.17,151.59],"nice":false,"zero":false}},"y":{"datum":8377.3,"type":"quantitative","scale":{"domain":[8324.9,8381.4],"nice":false,"zero":false}}}},
{"data":{"values":[{}]},"mark":{"type":"text","text":"TradingView","fontSize":12.5,"color":"#131722","align":"left","baseline":"middle"},"encoding":{"x":{"datum":-6.57,"type":"quantitative","scale":{"domain":[-9.17,151.59],"nice":false,"zero":false}},"y":{"datum":8313.9,"type":"quantitative","scale":{"domain":[8324.9,8381.4],"nice":false,"zero":false}}}}
]
}
]
}
